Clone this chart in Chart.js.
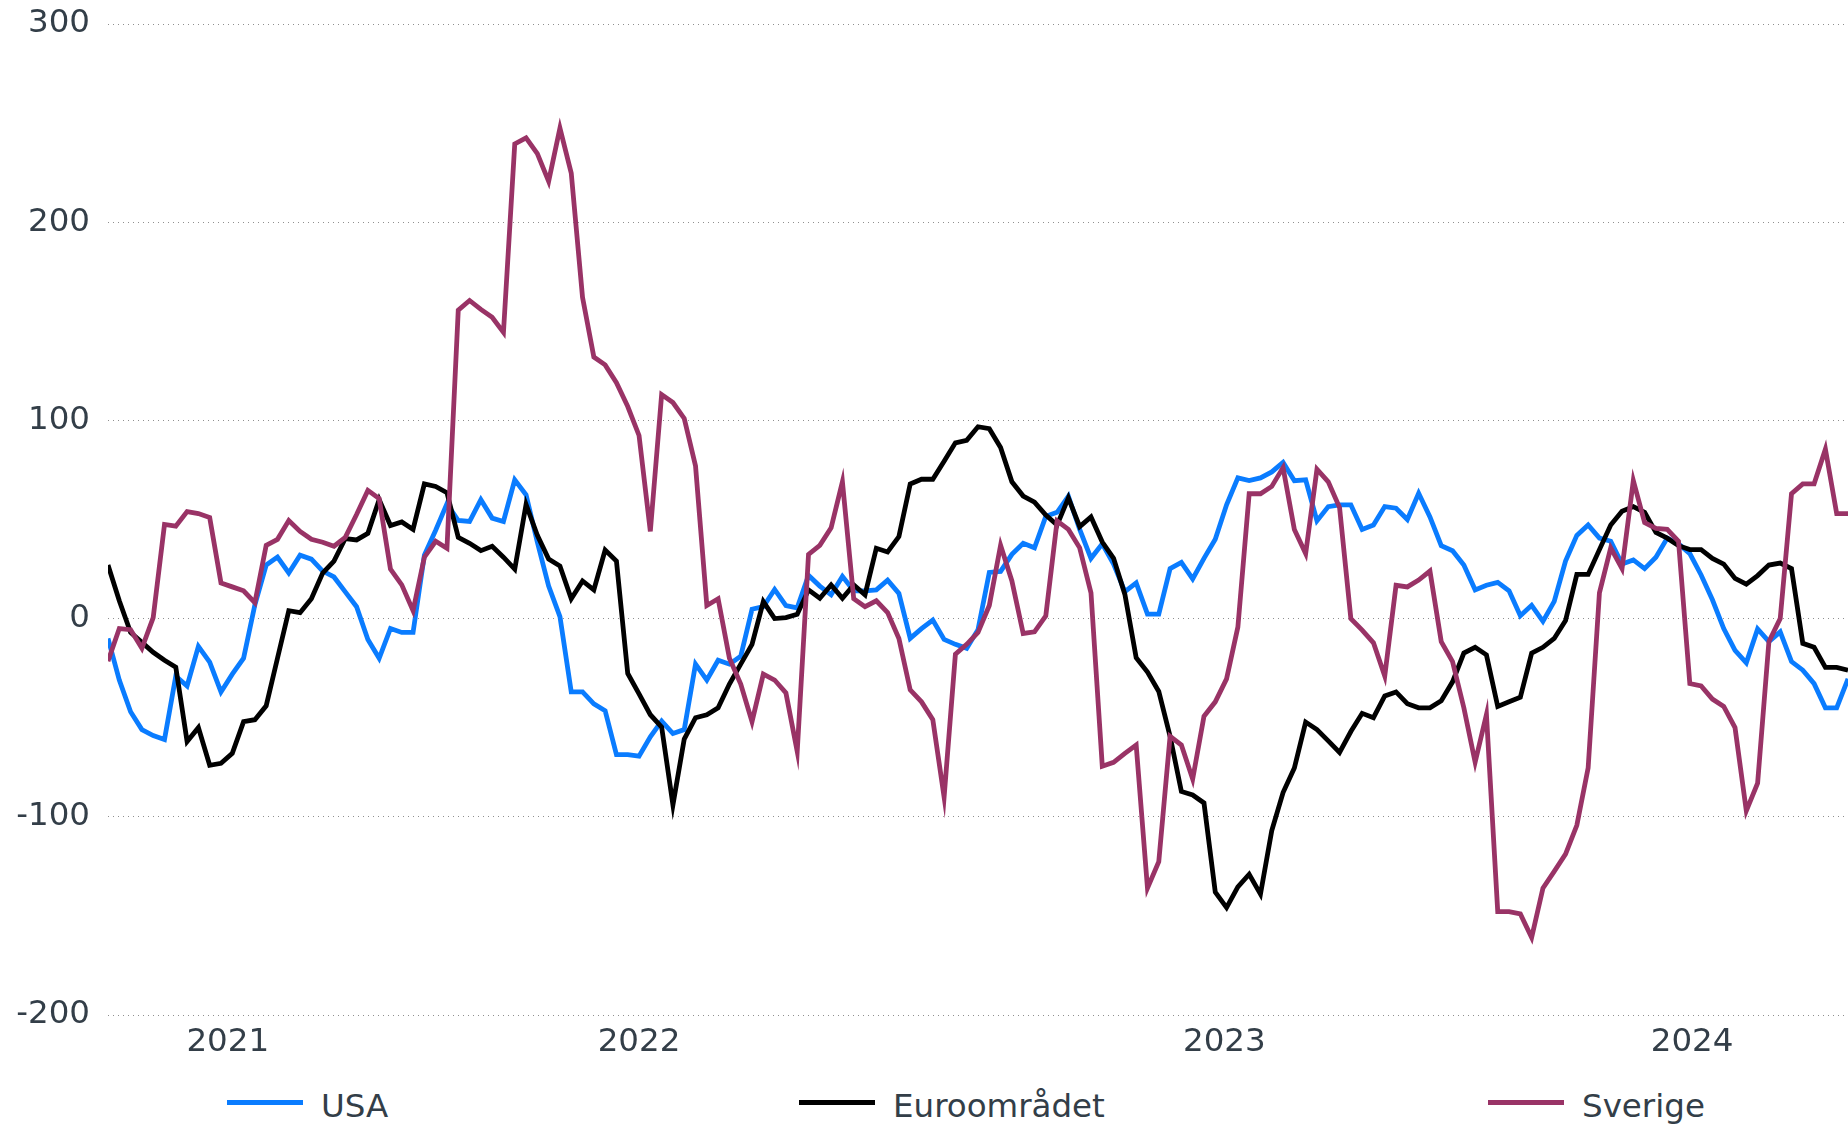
<!DOCTYPE html>
<html lang="sv">
<head>
<meta charset="utf-8">
<title>USA, Euroområdet, Sverige</title>
<script src="https://cdn.jsdelivr.net/npm/chart.js@4.4.1/dist/chart.umd.min.js"></script>
<style>
  html, body { margin: 0; padding: 0; background: #fff; }
  body { width: 1848px; height: 1125px; position: relative; overflow: hidden; font-family: "DejaVu Sans", sans-serif; color: #333e48; }
  #wrap { position: absolute; left: 0; top: 0; width: 1848px; height: 1070px; }
  .legend { position: absolute; left: 0; top: 1083px; width: 1848px; height: 45px; }
  .legend-item { position: absolute; top: 0; height: 45px; display: flex; align-items: center; font-size: 32.5px; white-space: nowrap; }
  .legend-item .swatch { width: 76px; height: 5px; margin-right: 18px; position: relative; top: -3px; }
</style>
</head>
<body>
<div id="wrap"><canvas id="chart" width="1848" height="1070"></canvas></div>
<div class="legend" id="legend"></div>
<script>
// x axis: one point per observation, only year labels are shown
const yearLabels = ["2021", "2022", "2023", "2024"];
const yearTickAt = [10.6, 47.0, 98.8, 140.2];

const usa = [
  -10, -31, -47, -56, -59, -61, -29, -34, -14, -22, -37, -28, -20, 7, 27, 31, 23, 32, 30, 24,
  21, 13.5, 6, -10.5, -20, -5, -7, -7, 32, 44.6, 58, 49.5, 49, 60, 50.7, 49, 70, 62.5, 38.5, 16.4,
  1, -37, -37, -43, -46.5, -68.6, -68.6, -69.4, -59.6, -51.7, -58, -56, -23, -31, -21, -23, -19, 4.7, 6, 14.7,
  6.6, 5.4, 21.8, 16.4, 12, 21.3, 14, 14, 14.5, 19.4, 12.7, -10, -5.1, -0.7, -10.5, -13, -15, -5.6, 23.3, 23.8,
  32.4, 38, 35.7, 51.6, 53.6, 61.7, 45, 30.4, 37.7, 27.5, 13.6, 18, 2.3, 2.3, 25.2, 28.4, 20, 30.4, 40, 57.4,
  71, 69.6, 71, 74, 78.8, 69.6, 70, 49.3, 56.5, 57.4, 57.4, 45, 47.2, 56.5, 55.7, 50, 63.2, 51.3, 36.8, 34.2,
  27, 14.5, 16.8, 18.3, 14, 1.4, 6.7, -1.4, 8.7, 29, 42, 47.2, 40.6, 39, 27.5, 29.6, 25.2, 31, 40.6, 37.7,
  32.8, 22, 9.5, -5, -16, -22.3, -5.2, -11.6, -6.7, -21.7, -26, -32.8, -45, -45, -30.4,
];

const euro = [
  27, 9, -7, -12, -17, -21, -24.5, -62, -55, -74, -73, -68, -52, -51, -44, -20, 4, 3, 10, 23,
  29, 40.4, 39.7, 43, 60, 47, 48.8, 45, 68, 66.7, 63.5, 41, 38, 34.3, 36.5, 31, 25, 57.6, 42, 30,
  26.5, 10, 19, 14.5, 34.6, 29, -27.7, -38, -48.5, -54.7, -94, -60.8, -50, -48.5, -45, -33, -23, -13, 8.6, 0,
  0.5, 2.2, 14.5, 10.3, 17, 10.3, 17, 12, 35.5, 33.6, 41.4, 67.9, 70.3, 70.3, 79.4, 88.7, 90, 96.8, 95.8, 86.3,
  69, 61.8, 58.8, 52.2, 47.2, 60.9, 46.4, 51.3, 38.6, 30.4, 12.2, -19.7, -27, -36.8, -59.4, -87.2, -89, -93, -138, -145.8,
  -135.4, -129, -139, -107, -87.8, -75.4, -52.2, -56, -61.7, -67.5, -57, -47.8, -50, -39, -37, -42.9, -45, -45, -41.4, -31.9,
  -17.4, -14.5, -18.3, -44.3, -42, -39.7, -17.4, -14.5, -10, -1, 22.3, 22.3, 34.8, 47.2, 54.2, 56.5, 53.6, 43.5, 40.6, 36.8,
  34.8, 34.8, 30.4, 27.5, 20.3, 17.4, 21.7, 27, 28, 25.2, -12.5, -14.5, -24.6, -24.6, -26,
];

const sverige = [
  -21.5, -5, -5.6, -15, 0.5, 47.5, 46.6, 54, 53, 51, 18, 16, 14, 8, 37, 40, 49.5, 44, 40, 38.5,
  36.5, 41, 52.5, 64.7, 60.5, 25, 17, 4, 31, 39, 35.5, 155.6, 160.5, 156, 152, 144.4, 239.5, 242.6, 234.6, 220.6,
  247.5, 224.8, 162, 132, 128, 119, 107, 92.4, 44, 113, 109, 101, 77, 6.6, 10, -20, -33, -52, -28, -31,
  -37.5, -67, 32.4, 37, 45.8, 69, 10, 6, 9, 3, -10, -36, -42, -51, -90, -18, -13, -7, 6.6, 37,
  19, -7.5, -6.7, 1.4, 49.3, 45, 35.7, 13, -74.5, -72.5, -68, -63.8, -136, -122.6, -59.4, -63.8, -81, -49.3, -42, -30.4,
  -4.3, 63, 63, 66.7, 76.2, 45, 32.8, 75.4, 69, 56, 0, -5.8, -12.2, -29, 16.8, 16, 19.4, 24, -11.6, -21.7,
  -45, -72.5, -48.4, -147.8, -147.8, -149, -160.9, -136, -127.5, -118.8, -104.3, -75.4, 13, 35.7, 25.2, 69.6, 48.4, 45.5, 45, 39,
  -32.8, -34, -40.6, -44.3, -55, -97, -83, -11.6, 0, 63, 68, 68, 85.5, 53, 53,
];

const series = [
  { name: "USA", values: usa, color: "#0a7cff", order: 2 },
  { name: "Euroområdet", values: euro, color: "#000000", order: 1 },
  { name: "Sverige", values: sverige, color: "#993366", order: 0 },
];

const TEXT = "#333e48";
Chart.defaults.font.family = "'DejaVu Sans', sans-serif";
Chart.defaults.font.size = 32.5;
Chart.defaults.color = TEXT;

const lastIdx = usa.length - 1;

new Chart(document.getElementById("chart"), {
  type: "line",
  data: {
    datasets: series.map((s) => ({
      label: s.name,
      data: s.values.map((v, i) => ({ x: i, y: v })),
      borderColor: s.color,
      backgroundColor: s.color,
      borderWidth: 4.8,
      pointRadius: 0,
      tension: 0,
      fill: false,
      order: s.order,
    })),
  },
  options: {
    responsive: false,
    animation: false,
    devicePixelRatio: 1,
    layout: { padding: { top: 24, right: 0, bottom: 0, left: 0 } },
    plugins: { legend: { display: false }, tooltip: { enabled: false } },
    scales: {
      x: {
        type: "linear",
        min: 0,
        max: lastIdx,
        grid: { display: false, drawTicks: false },
        border: { display: false },
        afterBuildTicks: (scale) => { scale.ticks = yearTickAt.map((v) => ({ value: v })); },
        ticks: { padding: 8, autoSkip: false, maxRotation: 0, callback: (v, i) => yearLabels[i] },
      },
      y: {
        min: -200,
        max: 300,
        afterFit: (scale) => {
          scale.width = 108;
          scale.paddingTop = 10;
          scale.paddingBottom = 10;
        },
        grid: { color: "#8f8f8f", lineWidth: 1, drawTicks: false },
        border: { display: false, dash: [1, 4] },
        ticks: { stepSize: 100, padding: 18 },
      },
    },
  },
});

// legend drawn as html under the chart
const legendLeft = { "USA": 227, "Euroområdet": 799, "Sverige": 1488 };
document.getElementById("legend").innerHTML = series.map((s) => `
  <div class="legend-item" style="left:${legendLeft[s.name]}px">
    <span class="swatch" style="background:${s.color}"></span>
    <span>${s.name}</span>
  </div>
`).join("");
</script>
</body>
</html>
